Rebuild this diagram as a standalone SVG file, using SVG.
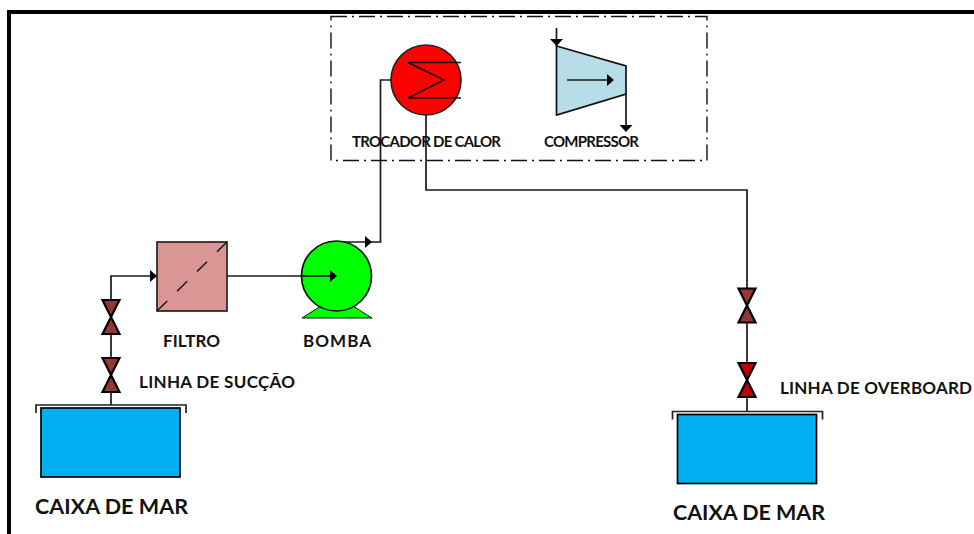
<svg xmlns="http://www.w3.org/2000/svg" width="974" height="534" viewBox="0 0 974 534">
<style>
.c{fill:none;stroke:#1a1a1a;stroke-width:1.7}
.h{fill:#000;stroke:none}
text{font-family:Lato,"Open Sans","Liberation Sans",sans-serif;font-weight:700;fill:#111}
.m{font-size:17px}
.t{font-size:15px}
.l{font-size:21.500px}
</style>
<defs>
<g id="valve"><path d="M-8.500 0H8.500L-8.500 34H8.500Z" stroke="#000" stroke-width="2.200" stroke-linejoin="miter"/></g>
<g id="tank"><rect x="5.500" y="3" width="139" height="69" fill="#00b0f0" stroke="#000" stroke-width="1.700"/><path d="M.5 8V0H150.500V8" fill="none" stroke="#222" stroke-width="1.700"/></g>
</defs>
<rect width="974" height="534" fill="#fff"/>
<g id="frame" fill="#000"><rect x="7" y="10" width="967" height="4"/><rect x="7" y="10" width="4" height="524"/></g>
<g id="unit-boundary"><rect x="331" y="16.500" width="376" height="144" fill="none" stroke="#111" stroke-width="1.400" stroke-dasharray="16 5 2 5"/></g>
<g id="connectors">
<path class="c" d="M111 405V276H157"/>
<path class="h" d="M157 276L150 270V282Z"/>
<path class="c" d="M227 276H336"/>
<path class="c" d="M336 242H380.500V80H391"/>
<path class="h" d="M372 242L365 236V248Z"/>
<path class="c" d="M426 115V190H747V411"/>
</g>
<g id="caixa-succao"><use href="#tank" x="35.500" y="405"/><text class="l" x="35" y="514" textLength="153">CAIXA DE MAR</text></g>
<g id="valvula-1"><use href="#valve" x="111" y="300" fill="#953735"/></g>
<g id="valvula-2"><use href="#valve" x="111" y="358" fill="#953735"/></g>
<text id="label-succao" class="m" x="139" y="388" textLength="156">LINHA DE SUCÇÃO</text>
<g id="filtro"><rect x="157" y="242" width="70" height="69" fill="#d99694" stroke="#222" stroke-width="1.700"/><path d="M227 242L157 311" stroke="#111" stroke-width="1.400" stroke-dasharray="14 14" fill="none"/><text class="m" x="163" y="347" textLength="57">FILTRO</text></g>
<g id="bomba"><path d="M302 318H372L353 306H321Z" fill="#00ff00" stroke="#111" stroke-width="1"/><circle cx="336.500" cy="276" r="35" fill="#00ff00" stroke="#111" stroke-width="1.700"/><path class="c" d="M302 276H331"/><path class="h" d="M337 276L330 270V282Z"/><text class="m" x="303" y="347" textLength="68">BOMBA</text></g>
<g id="trocador"><circle cx="426" cy="80" r="35" fill="#ff0000" stroke="#222" stroke-width="1.700"/><path d="M461 62.500H408L444 80L408 98H461" fill="none" stroke="#111" stroke-width="1.400"/><text class="t" x="352" y="147" textLength="149">TROCADOR DE CALOR</text></g>
<g id="compressor"><path d="M556.500 46L626 66V94L556.500 115Z" fill="#b7dde8" stroke="#111" stroke-width="1.700"/><path class="c" d="M556.500 28V46M626 94V128M567 80H610"/><path class="h" d="M556.500 46L550 39H563ZM626 132L619.500 125H632.500ZM614 80L607 74V86Z"/><text class="t" x="544" y="147" textLength="95">COMPRESSOR</text></g>
<g id="valvula-3"><use href="#valve" x="747" y="288.500" fill="#953735"/></g>
<g id="valvula-4"><use href="#valve" x="747" y="363" fill="#c00000"/></g>
<text id="label-overboard" class="m" x="780" y="394" textLength="192">LINHA DE OVERBOARD</text>
<g id="caixa-overboard"><use href="#tank" x="672" y="411.500"/><text class="l" x="673" y="520" textLength="152">CAIXA DE MAR</text></g>
</svg>
